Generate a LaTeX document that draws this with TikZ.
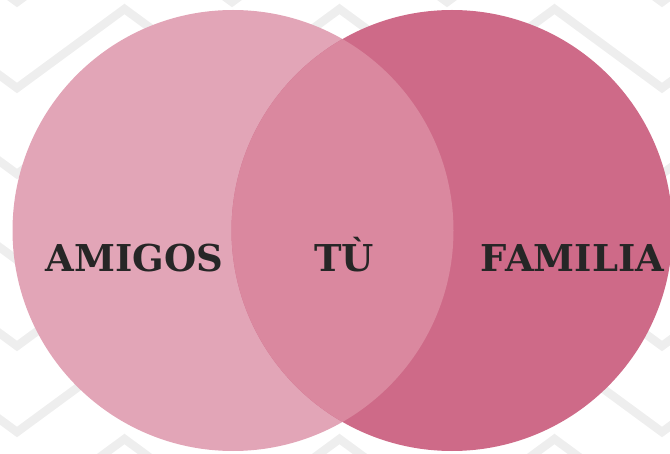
\documentclass[tikz,border=0pt]{standalone}
\usepackage{fontspec}
\setmainfont{DejaVu Serif}
\definecolor{zigzaggray}{RGB}{238,238,238}
\definecolor{amigospink}{RGB}{226,165,183}
\definecolor{familiapink}{RGB}{206,106,136}
\definecolor{overlappink}{RGB}{218,136,159}
\definecolor{labelink}{RGB}{38,38,38}
\begin{document}
\begin{tikzpicture}[
        x=1pt, y=1pt,
        zigzag/.style={draw=zigzaggray, line width=8.5pt, line join=miter},
        set/.style={fill=#1},
        setlabel/.style={anchor=base, text=labelink, inner sep=0pt, font=\bfseries\fontsize{37}{40}\selectfont},
    ]

        \useasboundingbox (0,0) rectangle (670,453);
        \clip (0,0) rectangle (670,453);

        \foreach \k in {-1,...,6} {
            \draw[zigzag] (-90.5, {451-86*\k+79})
                \foreach \n in {0,...,7} { -- ({17+107.5*\n}, {451-86*\k+79*mod(\n,2)}) };
        }

        \coordinate (amigosC) at (233, 222.5);
        \coordinate (familiaC) at (452, 222.5);

        \fill[set=amigospink] (amigosC) circle[radius=220.5pt];
        \fill[set=familiapink] (familiaC) circle[radius=220.5pt];
        \begin{scope}
            \clip (amigosC) circle[radius=220.5pt];
            \fill[set=overlappink] (familiaC) circle[radius=220.5pt];
        \end{scope}

        \node[setlabel] (amigos) at (134.5, 181) {AMIGOS};
        \node[setlabel] (tu) at (344, 181) {TÙ};
        \node[setlabel] (familia) at (572.5, 181) {FAMILIA};
    \end{tikzpicture}
\end{document}
